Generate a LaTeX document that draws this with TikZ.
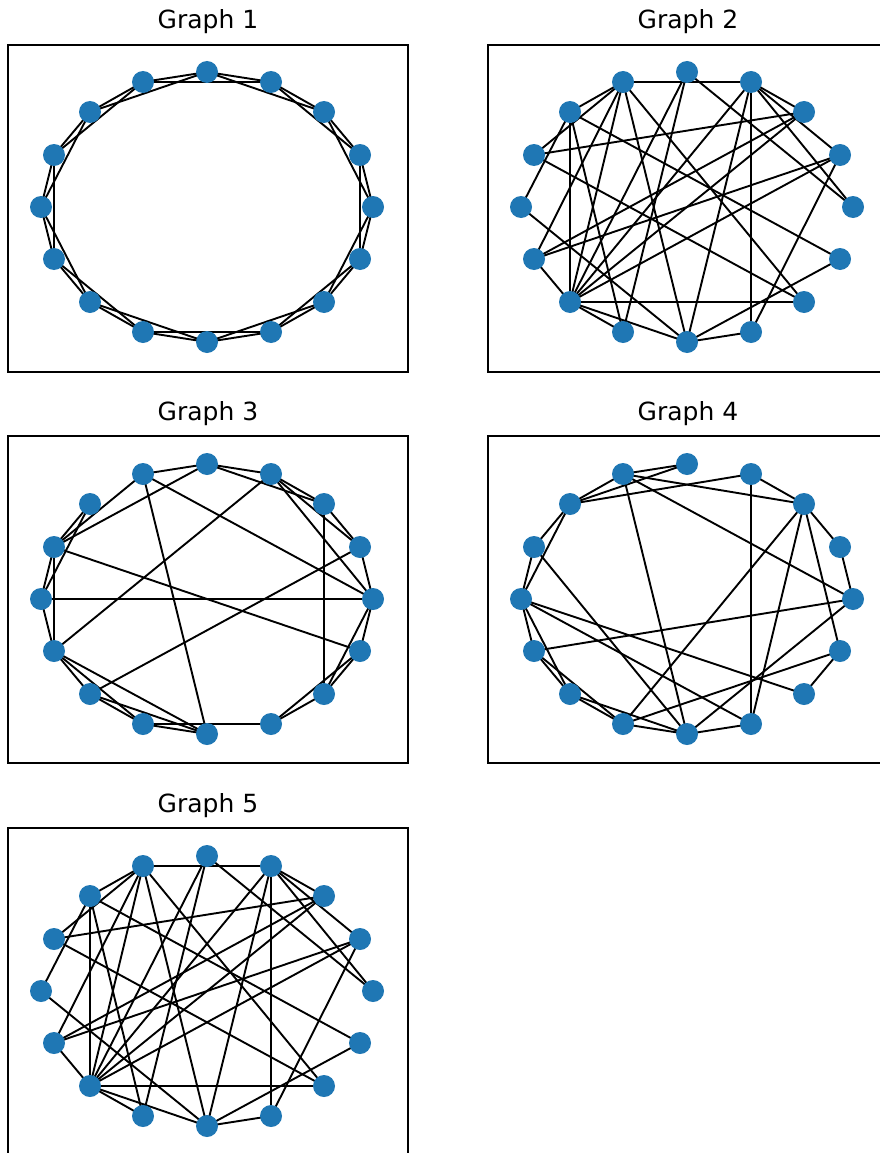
\documentclass[tikz,border=0pt]{standalone}
\usepackage{fontspec}
\setmainfont{DejaVu Sans}
\usetikzlibrary{backgrounds}
\definecolor{nodeblue}{HTML}{1F77B4}
\tikzset{
  vertex/.style={circle, fill=nodeblue, draw=none, minimum size=22pt, inner sep=0pt},
  link/.style={draw=black, line width=1.9pt},
  panel/.style={draw=black, line width=1.3pt},
  heading/.style={font=\fontsize{25}{30}\selectfont, anchor=base}
}
% #1 prefix, #2 centre x, #3 centre y, #4 edge list, #5 title, #6 frame top
\newcommand\ringgraph[6]{%
  \draw[panel] (#2-199,#6) rectangle (#2+201,#6+327);
  \node[heading] (#1title) at (#2+1,#6-16) {#5};
  \foreach \i in {0,...,15}{
    \pgfmathsetmacro\vx{round(#2+166*cos(\i*22.5))}
    \pgfmathsetmacro\vy{round(#3-135*sin(\i*22.5))}
    \node[vertex] (#1n\i) at (\vx,\vy) {};
  }
  \begin{scope}[on background layer]
    \foreach \a/\b in {#4}{ \draw[link] (#1n\a.center) -- (#1n\b.center); }
  \end{scope}
}
\begin{document}
\begin{tikzpicture}[x=1pt,y=-1pt]
\useasboundingbox (0,0) rectangle (879,1153);
\begin{scope}[on background layer]
  \fill[white] (0,0) rectangle (879,1153);
\end{scope}

% ring lattice
\ringgraph{ga}{207}{207}{0/1,1/2,2/3,3/4,4/5,5/6,6/7,7/8,8/9,9/10,10/11,11/12,12/13,13/14,14/15,15/0,
  0/2,1/3,2/4,3/5,4/6,5/7,6/8,7/9,8/10,9/11,10/12,11/13,12/14,13/15,14/0,15/1}{Graph 1}{45}

% fully rewired graph (drawn twice)
\ringgraph{gb}{687}{207}{0/4,0/3,1/13,1/9,2/7,2/9,1/3,2/3,4/10,4/11,5/3,6/10,6/15,6/11,7/14,7/5,8/12,
  9/10,10/14,10/1,10/11,10/12,10/3,12/13,12/15,3/13,3/12,5/14,5/10,5/12,5/9,2/10,8/6,5/6}{Graph 2}{45}

% partly rewired
\ringgraph{gc}{207}{599}{0/1,0/3,0/8,0/5,0/15,0/14,1/2,1/3,1/10,2/3,2/4,2/14,3/4,3/9,4/5,4/7,5/7,5/12,
  6/7,6/8,7/8,7/9,7/15,8/9,9/10,9/11,9/12,10/11,10/12,11/12,11/13,13/14,13/15,14/15}{Graph 3}{436}

\ringgraph{gd}{687}{599}{0/9,0/12,1/2,1/0,2/3,2/5,3/6,3/13,4/5,4/6,5/6,5/0,6/7,6/8,7/8,7/12,8/9,8/10,
  9/10,9/11,10/11,10/12,11/12,11/2,12/13,12/5,13/2,13/8,14/15,14/8,15/2,15/11}{Graph 4}{436}

\ringgraph{ge}{207}{991}{0/4,0/3,1/13,1/9,2/7,2/9,1/3,2/3,4/10,4/11,5/3,6/10,6/15,6/11,7/14,7/5,8/12,
  9/10,10/14,10/1,10/11,10/12,10/3,12/13,12/15,3/13,3/12,5/14,5/10,5/12,5/9,2/10,8/6,5/6}{Graph 5}{828}
\end{tikzpicture}
\end{document}
